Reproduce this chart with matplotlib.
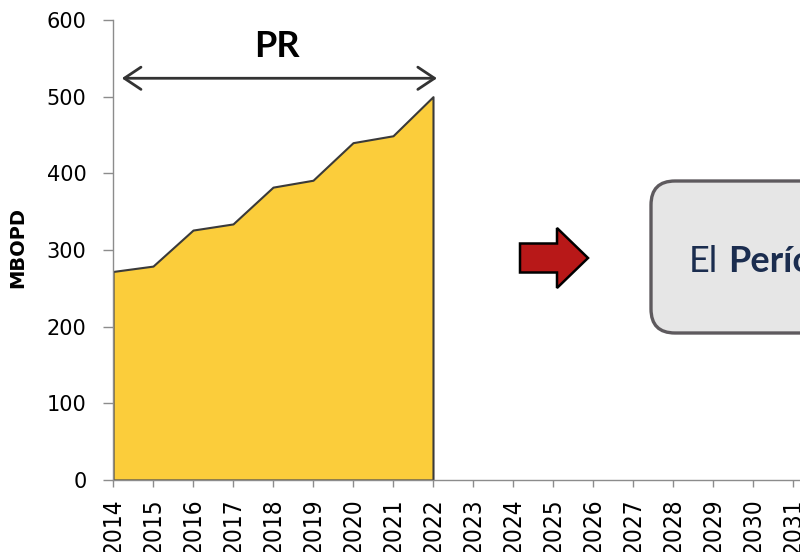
import numpy as np
import matplotlib
matplotlib.use("Agg")
import matplotlib.pyplot as plt
from matplotlib.patches import FancyArrow, FancyBboxPatch

# Produccion (MBOPD) por año, periodo PR
years = [2014, 2015, 2016, 2017, 2018, 2019, 2020, 2021, 2022]
mbopd = [272, 279, 326, 334, 382, 391, 440, 449, 500]

# Eje x completo
axis_years = list(range(2014, 2032))
y_ticks = [0, 100, 200, 300, 400, 500, 600]

fig = plt.figure(figsize=(8, 5.52), dpi=100)
ax = fig.add_axes([113 / 800, 72 / 552, 687 / 800, 460 / 552])

# Area amarilla
ax.fill_between(years, mbopd, 0, facecolor="#FBCD3B", edgecolor="#3A3A3A", linewidth=1.5)

ax.set_xlim(2014, 2014 + 687 / 40)
ax.set_ylim(0, 600)
ax.set_xticks(axis_years)
ax.set_xticklabels([str(y) for y in axis_years], rotation=90, fontsize=17.5,
                   family="DejaVu Sans", fontstretch="condensed")
ax.set_yticks(y_ticks)
ax.set_yticklabels([str(v) for v in y_ticks], fontsize=15, family="DejaVu Sans")
ax.tick_params(axis="y", length=7, width=1, color="#8C8C8C", pad=12)
ax.tick_params(axis="x", length=5, width=1, color="#8C8C8C", pad=8)

for s in ["top", "right"]:
    ax.spines[s].set_visible(False)
for s in ["left", "bottom"]:
    ax.spines[s].set_color("#8C8C8C")
    ax.spines[s].set_linewidth(1)

ax.set_ylabel("MBOPD", fontsize=14, fontweight="bold", family="DejaVu Sans")
ax.yaxis.set_label_coords(-0.125, 0.505)

# Flecha doble PR
ax.annotate("", xy=(years[0] + 0.22, 524), xytext=(years[-1] + 0.1, 524),
            arrowprops=dict(arrowstyle="<->,head_length=0.6,head_width=0.4",
                            mutation_scale=20, lw=2, color="#333333",
                            shrinkA=0, shrinkB=0))
ax.text((years[0] + years[-1]) / 2 + 0.1, 565, "PR", fontsize=26, fontweight="bold",
        family="Lato", ha="center", va="center", color="black")

# Capa superpuesta en pixeles para flecha roja y recuadro
ov = fig.add_axes([0, 0, 1, 1])
ov.set_xlim(0, 800)
ov.set_ylim(552, 0)
ov.axis("off")

ov.add_patch(FancyArrow(520, 258, 68, 0, width=29, head_width=60, head_length=31,
                        length_includes_head=True, facecolor="#B81818",
                        edgecolor="black", linewidth=1.8))

ov.add_patch(FancyBboxPatch((651, 181), 320, 152,
                            boxstyle="round,pad=0,rounding_size=24",
                            facecolor="#E6E6E6", edgecolor="#5E5A5E", linewidth=2.4))

t1 = ov.text(689, 272, "El", fontsize=26, family="Lato", color="#1B2D4F",
             ha="left", va="baseline")
ov.annotate("Período", xy=(1, 0), xycoords=t1, xytext=(7, 0), textcoords="offset points",
            fontsize=26, fontweight="bold", family="Lato", color="#1B2D4F",
            ha="left", va="bottom")

fig.savefig("out.png", dpi=100)
